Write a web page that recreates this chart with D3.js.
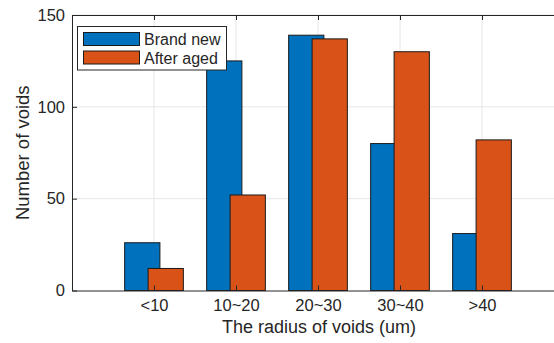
<!DOCTYPE html>
<html>
<head>
<meta charset="utf-8">
<script src="https://cdn.jsdelivr.net/npm/d3@7"></script>
<style>
  html, body { margin: 0; padding: 0; background: #fff; }
  svg { display: block; font-family: "Liberation Sans", Arial, Helvetica, sans-serif; }
</style>
</head>
<body>
<svg id="chart" width="554" height="343"></svg>
<script>
// Void counts by radius class, before and after ageing
const categories = ["<10", "10~20", "20~30", "30~40", ">40"];
const brandNew = [26, 125, 139, 80, 31];
const afterAged = [12, 52, 137, 130, 82];
const seriesNames = ["Brand new", "After aged"];
const yTicks = [0, 50, 100, 150];

const W = 554, H = 343;
const margin = { left: 72, top: 15, bottom: 52.5 };
const plotRight = 564;            // axes box runs past the window edge
const axisColor = "#262626";
const colors = ["#0072BD", "#D95319"];

const svg = d3.select("#chart");

const x = d3.scaleLinear().domain([0, 6]).range([margin.left, plotRight]);
const y = d3.scaleLinear().domain([0, 150]).range([H - margin.bottom, margin.top]);

const barW = 0.43;       // bar width in category units
const offset = 0.143;    // shift of each series from the category centre

// grid
const grid = svg.append("g");
grid.selectAll("line.gx").data(d3.range(1, categories.length + 1)).join("line")
  .attr("x1", d => x(d)).attr("x2", d => x(d))
  .attr("y1", y(0)).attr("y2", y(150))
  .attr("stroke", "#e6e6e6").attr("stroke-width", 1);
grid.selectAll("line.gy").data(yTicks.slice(1)).join("line")
  .attr("x1", x(0)).attr("x2", plotRight)
  .attr("y1", d => y(d)).attr("y2", d => y(d))
  .attr("stroke", "#e6e6e6").attr("stroke-width", 1);

// bars
[brandNew, afterAged].forEach((vals, si) => {
  const shift = si === 0 ? -offset : offset;
  svg.append("g").selectAll("rect").data(vals).join("rect")
    .attr("x", (d, i) => x(i + 1 + shift - barW / 2))
    .attr("width", x(barW) - x(0))
    .attr("y", d => y(d))
    .attr("height", d => y(0) - y(d))
    .attr("fill", colors[si])
    .attr("stroke", "#1a1a1a")
    .attr("stroke-width", 1);
});

// axes
const tickLen = 5;
const tickFont = 16.5;
const xAxis = d3.axisBottom(x)
  .tickValues(d3.range(1, categories.length + 1))
  .tickFormat(d => categories[d - 1])
  .tickSizeInner(-tickLen).tickSizeOuter(0).tickPadding(9);
const gx = svg.append("g").attr("transform", `translate(0,${y(0)})`).call(xAxis);

const xTop = d3.axisTop(x)
  .tickValues(d3.range(1, categories.length + 1))
  .tickFormat("")
  .tickSizeInner(-tickLen).tickSizeOuter(0);
const gxt = svg.append("g").attr("transform", `translate(0,${y(150)})`).call(xTop);

const yAxis = d3.axisLeft(y).tickValues(yTicks)
  .tickSizeInner(-tickLen).tickSizeOuter(0).tickPadding(7);
const gy = svg.append("g").attr("transform", `translate(${x(0)},0)`).call(yAxis);

[gx, gxt, gy].forEach(g => {
  g.select(".domain").attr("stroke", axisColor).attr("stroke-width", 1);
  g.selectAll(".tick line").attr("stroke", axisColor).attr("stroke-width", 1);
  g.selectAll(".tick text").attr("fill", axisColor)
    .attr("font-size", tickFont).attr("font-family", "Liberation Sans, Arial, sans-serif");
});

// axis titles
svg.append("text")
  .attr("x", 319).attr("y", 333)
  .attr("text-anchor", "middle").attr("font-size", 18).attr("fill", axisColor)
  .text("The radius of voids (um)");
svg.append("text")
  .attr("transform", `translate(28.5,${(y(0) + y(150)) / 2}) rotate(-90)`)
  .attr("text-anchor", "middle").attr("font-size", 18.5).attr("fill", axisColor)
  .text("Number of voids");

// legend
const lg = svg.append("g").attr("transform", "translate(77.5,26.5)");
lg.append("rect").attr("width", 149).attr("height", 43.5)
  .attr("fill", "#fff").attr("stroke", axisColor).attr("stroke-width", 1);
seriesNames.forEach((name, i) => {
  lg.append("rect")
    .attr("x", 6).attr("y", 6 + i * 18.5)
    .attr("width", 56).attr("height", 13)
    .attr("fill", colors[i]).attr("stroke", "#1a1a1a").attr("stroke-width", 1);
  lg.append("text")
    .attr("x", 66.5).attr("y", 18.5 + i * 18.5)
    .attr("font-size", 16).attr("fill", axisColor)
    .text(name);
});
</script>
</body>
</html>
